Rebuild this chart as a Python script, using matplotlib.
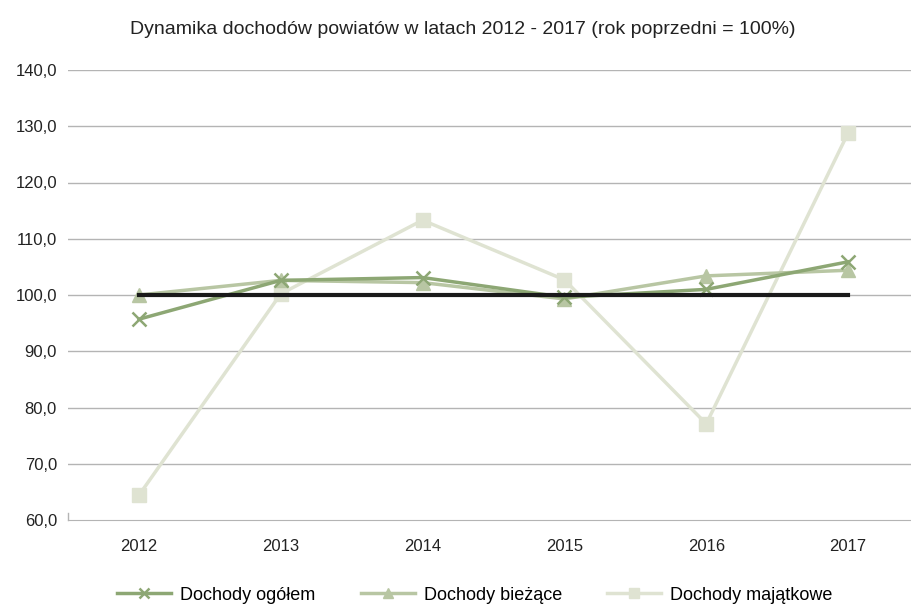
import matplotlib
matplotlib.use("Agg")
import matplotlib.pyplot as plt

plt.rcParams['font.family'] = ["Liberation Sans", 'DejaVu Sans']

years = ["2012", "2013", "2014", "2015", "2016", "2017"]
ogolem = [95.7, 102.6, 103.1, 99.6, 101.0, 105.9]
biezace = [100.0, 102.6, 102.2, 99.3, 103.4, 104.4]
majatkowe = [64.4, 100.2, 113.3, 102.7, 77.1, 128.8]
baseline = [100, 100, 100, 100, 100, 100]
yticks = [60, 70, 80, 90, 100, 110, 120, 130, 140]

fig = plt.figure(figsize=(9.12, 6.04), dpi=100)
ax = fig.add_axes([68/912, 1-520/604, (912-68)/912, 450/604])
x = list(range(len(years)))

for yv in yticks[1:]:
    ax.axhline(yv, color="#b4b4b4", lw=1.0, zorder=1)

c1, c2, c3 = "#8da774", "#b8c6a3", "#dfe3d2"
ax.plot(x, majatkowe, color=c3, lw=2.5, marker="s", ms=10, mec=c3, mfc=c3, zorder=2, label="Dochody majątkowe")
ax.plot(x, biezace, color=c2, lw=2.5, marker="^", ms=10, mec=c2, mfc=c2, zorder=3, label="Dochody bieżące")
ax.plot(x, ogolem, color=c1, lw=2.5, marker="x", ms=10, mew=1.8, mec=c1, zorder=4, label="Dochody ogółem")
ax.plot(x, baseline, color="#1a1a1a", lw=3, zorder=5)

ax.set_ylim(60, 140)
ax.set_xlim(-0.5, 5.5 - (919-912)/141.8)
ax.set_yticks(yticks)
ax.set_yticklabels([f"{v:.1f}".replace(".", ",") for v in yticks], fontsize=12, color="#222222")
ax.set_xticks(x)
ax.set_xticklabels(years, fontsize=12, color="#222222")
for s in ["top", "right", "left"]:
    ax.spines[s].set_visible(False)
ax.spines["bottom"].set_color("#b4b4b4")
ax.tick_params(axis="y", length=0, pad=8)
ax.tick_params(axis="x", length=0, pad=14)
ax.plot([-0.5, -0.5], [60, 61.2], color="#b4b4b4", lw=1, clip_on=False)

fig.text(463/912, 1-30/604, "Dynamika dochodów powiatów w latach 2012 - 2017 (rok poprzedni = 100%)",
         ha="center", va="center", fontsize=14, color="#222222")

h, l = ax.get_legend_handles_labels()
leg = fig.legend(h[::-1], l[::-1], loc="center", bbox_to_anchor=(475/912, 1-595/604), ncol=3,
                 frameon=False, fontsize=13, handlelength=3.0, columnspacing=2.5, handletextpad=0.5)
for lh in leg.legend_handles:
    lh.set_markersize(7)

fig.savefig("out.png", dpi=100)
